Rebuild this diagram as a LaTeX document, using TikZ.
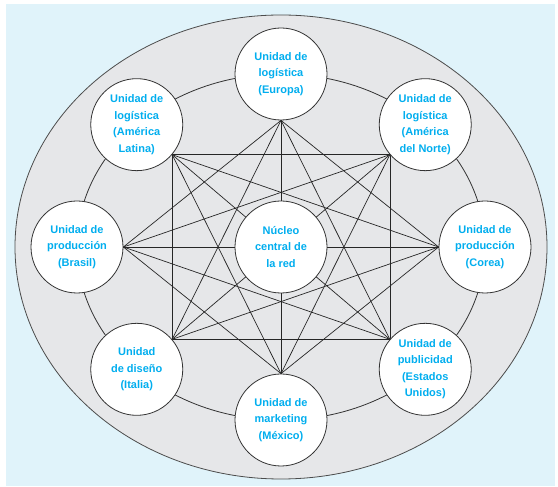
\documentclass[tikz,border=0pt]{standalone}
\usepackage{fontspec}
\setmainfont{Liberation Sans}
\usetikzlibrary{calc}
\definecolor{cianred}{RGB}{0,174,239}
\definecolor{fondoazul}{RGB}{224,243,250}
\definecolor{fondogris}{RGB}{230,231,233}
\pgfdeclarelayer{bg}
\pgfsetlayers{bg,main}
\tikzset{unidad/.style={circle,draw=black!80,fill=white,minimum size=92pt,inner sep=0pt,line width=0.8pt,align=center,text=cianred,font=\bfseries\fontsize{11}{16.5}\selectfont},enlace/.style={line width=0.7pt,black!85}}

\begin{document}
\begin{tikzpicture}[x=1pt,y=1pt]
    \useasboundingbox (0,0) rectangle (558,487);
    \node [unidad] (c) at (281,240) {Núcleo\\central de\\la red};

    \node [unidad] (u1) at ($(c)+(90:204 and 173)$) {Unidad de\\logística\\(Europa)};
    \node [unidad] (u2) at ($(c)+(135:204 and 173)$) {Unidad de\\logística\\(América\\Latina)};
    \node [unidad] (u3) at ($(c)+(180:204 and 173)$) {Unidad de\\producción\\(Brasil)};
    \node [unidad] (u4) at ($(c)+(225:204 and 173)$) {Unidad\\de diseño\\(Italia)};
    \node [unidad] (u5) at ($(c)+(270:204 and 173)$) {Unidad de\\marketing\\(México)};
    \node [unidad] (u6) at ($(c)+(315:204 and 173)$) {Unidad de\\publicidad\\(Estados\\Unidos)};
    \node [unidad] (u7) at ($(c)+(0:204 and 173)$) {Unidad de\\producción\\(Corea)};
    \node [unidad] (u8) at ($(c)+(45:204 and 173)$) {Unidad de\\logística\\(América\\del Norte)};

    % puntos de enlace, del lado del nucleo
    \foreach \i in {1,...,8}
        \coordinate (p\i) at ($(u\i.center)!46.4pt!(c.center)$);

    \begin{pgfonlayer}{bg} % background layer
    \fill [fondoazul] (6,1) rectangle (555,483);
    \draw [fill=fondogris, draw=black!70, line width=0.8pt] (c.center) ellipse [x radius=266, y radius=232];
    \draw [black!80, line width=0.8pt] (c.center) ellipse [x radius=204, y radius=173];
    \foreach \i in {1,...,8}
        {
        \foreach \d in {2,3}
            {
            \pgfmathtruncatemacro{\j}{mod(\i+\d-1,8)+1}
            \draw [enlace] (p\i) -- (p\j);
            }
        }
    \foreach \i in {1,...,4}
        {
        \pgfmathtruncatemacro{\j}{\i+4}
        \draw [enlace] (p\i) -- (p\j);
        }
    \end{pgfonlayer}
\end{tikzpicture}
\end{document}
